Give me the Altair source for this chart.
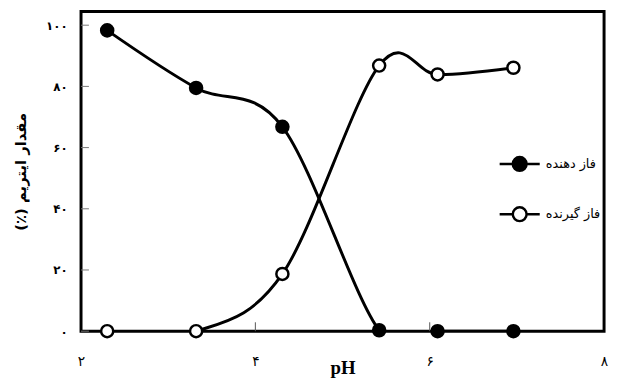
import altair as alt
import pandas as pd

# ---- data ----
ph = [2.3, 3.32, 4.31, 5.42, 6.09, 6.96]
donor = [98.3, 79.5, 66.8, 0.3, 0.0, 0.0]        # فاز دهنده (filled)
acceptor = [0.0, 0.0, 18.7, 86.8, 83.9, 86.1]    # فاز گیرنده (open)
series_names = ["فاز دهنده", "فاز گیرنده"]
y_ticks = [0, 20, 40, 60, 80, 100]
y_tick_labels = ["۰", "۲۰", "۴۰", "۶۰", "۸۰", "۱۰۰"]
x_ticks = [2, 4, 6, 8]
x_tick_labels = ["۲", "۴", "۶", "۸"]
x_inner_ticks = [4, 6]
y_title = "\u202Bمقدار ایتریم (٪)\u202C"

rows = []
for x, d in zip(ph, donor):
    rows.append({"pH": x, "v": d, "series": series_names[0]})
for x, a in zip(ph, acceptor):
    rows.append({"pH": x, "v": a, "series": series_names[1]})
df = pd.DataFrame(rows)

W, H = 530, 324
xs = alt.Scale(domain=[2, 8], nice=False, zero=False)
ys = alt.Scale(domain=[0, 104.5], nice=False)

def lookup_expr(vals, labels):
    pairs = ",".join(f"'{v}':'{l}'" for v, l in zip(vals, labels))
    return "{" + pairs + "}[''+datum.value]"

x_axis = alt.Axis(values=x_ticks, labelExpr=lookup_expr(x_ticks, x_tick_labels),
                  tickSize=0, domain=False, grid=False, labelPadding=24,
                  labelFontSize=14, labelFont="DejaVu Sans", labelColor="black",
                  labelFlush=False,
                  title="pH", titleFont="Liberation Serif", titleFontSize=19,
                  titleFontWeight="bold", titleColor="black", titlePadding=-10)
y_axis = alt.Axis(values=y_ticks, labelExpr=lookup_expr(y_ticks, y_tick_labels),
                  tickSize=0, domain=False, grid=False, labelPadding=14,
                  labelFontSize=12, labelFont="DejaVu Sans", labelFontWeight="bold",
                  labelColor="black", labelFlush=False,
                  title=y_title, titleFont="DejaVu Sans", titleFontSize=15,
                  titleFontWeight="bold", titleColor="black", titlePadding=17)

sym_path = ("M-2.9,0L-1,0M1,0L2.9,0"
            "M-1,0A1,1 0 1,1 1,0A1,1 0 1,1 -1,0Z")

lines = alt.Chart(df).mark_line(
    interpolate="cardinal", tension=0, color="black", strokeWidth=3, clip=True
).encode(
    x=alt.X("pH:Q", scale=xs, axis=x_axis),
    y=alt.Y("v:Q", scale=ys, axis=y_axis),
    detail="series:N",
)

points = alt.Chart(df).mark_point(
    shape="circle", filled=False, stroke="black", strokeWidth=2.5, size=150, opacity=1
).encode(
    x=alt.X("pH:Q", scale=xs),
    y=alt.Y("v:Q", scale=ys),
    fill=alt.Fill("series:N",
                  scale=alt.Scale(domain=series_names, range=["black", "white"]),
                  legend=alt.Legend(orient="none", legendX=436, legendY=146,
                                    title=None, symbolType=sym_path, symbolSize=196,
                                    symbolStrokeColor="black", symbolStrokeWidth=2.5,
                                    labelOffset=18, rowPadding=26, padding=0,
                                    labelFontSize=13, labelFont="DejaVu Sans",
                                    labelColor="black")),
    fillOpacity=alt.value(1),
)

ytick_df = pd.DataFrame({"v": y_ticks})
xtick_df = pd.DataFrame({"pH": x_inner_ticks})

yticks = alt.Chart(ytick_df).mark_rule(color="#777", strokeWidth=1).encode(
    y=alt.Y("v:Q", scale=ys), x=alt.value(0), x2=alt.value(8))
xticks = alt.Chart(xtick_df).mark_rule(color="#555", strokeWidth=1).encode(
    x=alt.X("pH:Q", scale=xs), y=alt.value(H), y2=alt.value(H - 9))

chart = alt.layer(yticks, xticks, lines, points).properties(
    width=W, height=H,
    background="white",
    autosize=alt.AutoSizeParams(type="none"),
    padding={"left": 74, "top": 1, "right": 5, "bottom": 47},
).configure_view(stroke="black", strokeWidth=3)

chart.save("out.html", embed_options={"renderer": "svg", "actions": False})
